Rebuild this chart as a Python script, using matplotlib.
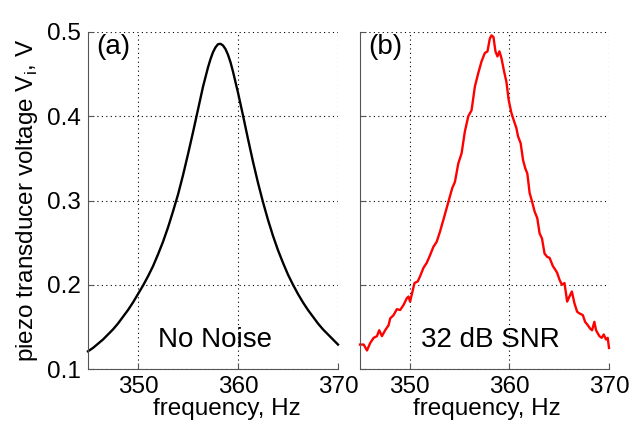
"""
resonance curve of the piezo transducer, without and with noise.
"""
import matplotlib
matplotlib.use("Agg")
import matplotlib.pyplot as plt

plt.rcParams["font.family"] = ["Liberation Sans", "DejaVu Sans"]
plt.rcParams["mathtext.fontset"] = "custom"
plt.rcParams["mathtext.rm"] = "Liberation Sans"

# (a) no noise
clean_freq = [
    345.0, 345.5, 346.0, 346.5, 347.0, 347.5, 348.0, 348.5, 349.0, 349.5,
    350.0, 350.5, 351.0, 351.5, 352.0, 352.5, 353.0, 353.5, 354.0, 354.5,
    355.0, 355.5, 356.0, 356.5, 357.0, 357.25, 357.5, 357.75, 358.0, 358.25,
    358.5, 358.75, 359.0, 359.25, 359.5, 360.0, 360.5, 361.0, 361.5, 362.0,
    362.5, 363.0, 363.5, 364.0, 364.5, 365.0, 365.5, 366.0, 366.5, 367.0,
    367.5, 368.0, 368.5, 369.0, 369.5, 370.0,
]
clean_volt = [
    0.121, 0.125, 0.130, 0.135, 0.141, 0.147, 0.154, 0.162, 0.170, 0.179,
    0.189, 0.199, 0.210, 0.222, 0.236, 0.251, 0.268, 0.287, 0.307, 0.330,
    0.355, 0.381, 0.408, 0.435, 0.458, 0.4678, 0.476, 0.4818, 0.4855, 0.486,
    0.484, 0.4797, 0.473, 0.4641, 0.453, 0.428, 0.401, 0.373, 0.346, 0.321,
    0.298, 0.277, 0.258, 0.241, 0.226, 0.212, 0.200, 0.189, 0.179, 0.170,
    0.162, 0.154, 0.147, 0.141, 0.135, 0.129,
]

# (b) 32 dB SNR
noisy_freq = [
    345.00, 345.37, 345.70, 346.03, 346.37, 346.70, 346.93, 347.20, 347.53, 347.87,
    348.03, 348.37, 348.70, 349.03, 349.37, 349.70, 349.87, 350.03, 350.27, 350.47,
    350.80, 351.03, 351.37, 351.70, 352.03, 352.37, 352.70, 353.03, 353.37, 353.70,
    354.03, 354.27, 354.53, 354.87, 355.20, 355.53, 355.87, 356.20, 356.53, 356.87,
    357.20, 357.53, 357.80, 358.03, 358.20, 358.40, 358.60, 358.80, 359.00, 359.20,
    359.47, 359.70, 359.93, 360.20, 360.47, 360.70, 360.87, 361.13, 361.37, 361.60,
    361.80, 362.03, 362.27, 362.53, 362.80, 363.03, 363.27, 363.53, 363.80, 364.03,
    364.37, 364.60, 364.80, 365.03, 365.27, 365.53, 365.80, 366.03, 366.27, 366.53,
    366.80, 367.03, 367.37, 367.60, 367.87, 368.10, 368.30, 368.53, 368.70, 369.03,
    369.27, 369.47, 369.70, 369.87, 370.00,
]
noisy_volt = [
    0.129, 0.129, 0.122, 0.131, 0.137, 0.139, 0.146, 0.139, 0.146, 0.152,
    0.160, 0.164, 0.171, 0.170, 0.176, 0.184, 0.186, 0.180, 0.192, 0.202,
    0.204, 0.210, 0.220, 0.226, 0.235, 0.245, 0.251, 0.263, 0.277, 0.291,
    0.305, 0.315, 0.322, 0.344, 0.356, 0.382, 0.400, 0.407, 0.435, 0.451,
    0.465, 0.475, 0.477, 0.492, 0.496, 0.494, 0.477, 0.471, 0.477, 0.469,
    0.453, 0.441, 0.419, 0.404, 0.394, 0.386, 0.376, 0.368, 0.348, 0.338,
    0.332, 0.309, 0.299, 0.287, 0.279, 0.261, 0.255, 0.237, 0.233, 0.232,
    0.222, 0.218, 0.214, 0.206, 0.200, 0.202, 0.180, 0.186, 0.192, 0.178,
    0.168, 0.166, 0.164, 0.156, 0.152, 0.148, 0.146, 0.156, 0.146, 0.139,
    0.137, 0.141, 0.135, 0.137, 0.125,
]

xticks = [350, 360, 370]
yticks = [0.1, 0.2, 0.3, 0.4, 0.5]


def style_axes(ax, label_x):
    ax.set_xlim(345, 370)
    ax.set_ylim(0.1, 0.5)
    ax.set_xticks(xticks)
    ax.set_yticks(yticks)
    ax.grid(True, linestyle=(0, (1, 3)), color="black", linewidth=0.8)
    for side in ["top", "right"]:
        ax.spines[side].set_visible(False)
    for side in ["left", "bottom"]:
        ax.spines[side].set_color("#555555")
        ax.spines[side].set_linewidth(0.8)
    ax.tick_params(direction="in", length=4, width=0.8, color="#555555",
                   labelsize=17.5, pad=5)
    ax.set_xlabel("frequency, Hz", fontsize=17.5, labelpad=-3)
    ax.xaxis.set_label_coords(label_x, -0.085)


fig = plt.figure(figsize=(6.36, 4.22), dpi=100)
ax1 = fig.add_axes([88 / 636, 1 - 369 / 422, 250 / 636, 337 / 422])
ax2 = fig.add_axes([360 / 636, 1 - 369 / 422, 249 / 636, 337 / 422])

ax1.plot(clean_freq, clean_volt, color="black", linewidth=1.7, clip_on=False)
style_axes(ax1, 0.555)
ax1.set_ylabel("piezo transducer voltage V$_\\mathregular{i}$, V", fontsize=17.5,
               labelpad=5)
ax1.text(0.035, 0.995, "(a)", transform=ax1.transAxes, fontsize=20,
         ha="left", va="top")
ax1.text(0.507, 0.065, "No Noise", transform=ax1.transAxes, fontsize=20,
         ha="center", va="baseline")

ax2.plot(noisy_freq, noisy_volt, color="red", linewidth=1.7, clip_on=False)
style_axes(ax2, 0.51)
ax2.set_yticklabels([])
ax2.text(0.033, 0.995, "(b)", transform=ax2.transAxes, fontsize=20,
         ha="left", va="top")
ax2.text(0.522, 0.065, "32 dB SNR", transform=ax2.transAxes, fontsize=20,
         ha="center", va="baseline")

fig.savefig("out.png", dpi=100)
